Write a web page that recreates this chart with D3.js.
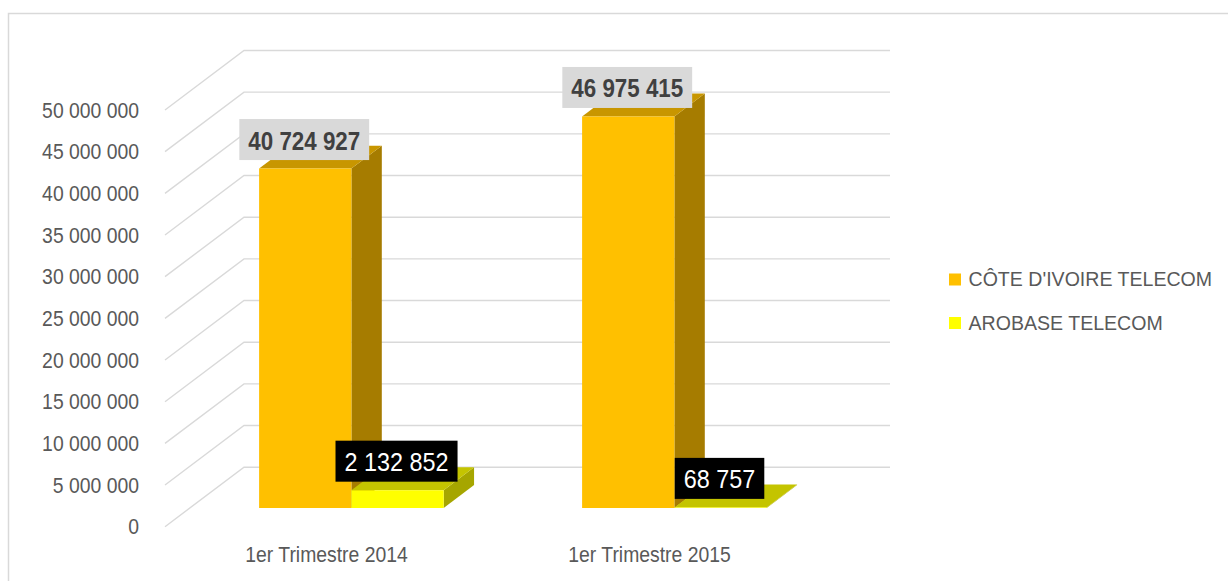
<!DOCTYPE html>
<html>
<head>
<meta charset="utf-8">
<script src="https://cdn.jsdelivr.net/npm/d3@7"></script>
<style>
  html, body { margin: 0; padding: 0; background: #fff; }
  svg { display: block; }
  text { font-family: "Liberation Sans", Arial, sans-serif; }
</style>
</head>
<body>
<div id="chart"></div>
<script>
// ---- Data ----
const categories = ["1er Trimestre 2014", "1er Trimestre 2015"];
const seriesNames = ["CÔTE D'IVOIRE TELECOM", "AROBASE TELECOM"];
const civValues = [40724927, 46975415];
const arobaseValues = [2132852, 68757];
const yTickValues = [0, 5000000, 10000000, 15000000, 20000000, 25000000, 30000000, 35000000, 40000000, 45000000, 50000000];

// ---- Styles ----
const seriesStyle = [
  { front: "#FFC000", top: "#C89600", side: "#A67C00", labelBox: "#D9D9D9", labelText: "#404040", bold: true, sx: 0.86 },
  { front: "#FFFF00", top: "#C4C400", side: "#A6A600", labelBox: "#000000", labelText: "#FFFFFF", bold: false, sx: 0.9 }
];
const W = 1228, H = 581;
const DX = 79, DY = 59.5;          // depth projection of the whole floor
const T0 = 0.315, T1 = 0.70;       // bar depth range (fraction of floor depth)

const svg = d3.select("#chart").append("svg").attr("width", W).attr("height", H);

// chart border (cut at right / bottom like the reference)
svg.append("rect").attr("x", 8.5).attr("y", 13.5).attr("width", 1240).attr("height", 600)
  .attr("fill", "none").attr("stroke", "#D9D9D9").attr("stroke-width", 1.5);

const y = d3.scaleLinear().domain([0, 50000000]).range([526.7, 110]);
const x = d3.scaleBand().domain(categories).range([165, 811]).paddingInner(0).paddingOuter(0);
const xs = d3.scaleBand().domain(seriesNames).range([0, x.bandwidth()]).paddingInner(0).paddingOuter(0.75);

const P = (xf, yf, t) => [xf + DX * t, yf - DY * t];
const fmt = v => d3.format(",")(v).replace(/,/g, " ");

// gridlines (side wall + back wall)
const [xL, xR] = x.range();
svg.append("g").selectAll("path").data(yTickValues).join("path")
  .attr("d", v => {
    const a = P(xL, y(v), 0), b = P(xL, y(v), 1), c = P(xR, y(v), 1);
    return `M${a}L${b}L${c}`;
  })
  .attr("fill", "none").attr("stroke", "#D9D9D9").attr("stroke-width", 1.4);

// y-axis labels
svg.append("g").selectAll("text").data(yTickValues).join("text")
  .attr("transform", v => `translate(139,${y(v) + 7.7}) scale(0.88,1)`)
  .attr("text-anchor", "end").attr("font-size", 22).attr("fill", "#595959")
  .text(v => fmt(v));

// category labels
svg.append("g").selectAll("text").data(categories).join("text")
  .attr("transform", c => `translate(${x(c) + x.bandwidth() / 2},561.7) scale(0.88,1)`)
  .attr("text-anchor", "middle").attr("font-size", 22).attr("fill", "#595959")
  .text(c => c);

// bars
const allSeries = [civValues, arobaseValues];
const bars = [];
categories.forEach((c, ci) => {
  allSeries.forEach((vals, si) => {
    const v = vals[ci];
    const x0 = x(c) + xs(seriesNames[si]);
    const x1 = x0 + xs.bandwidth();
    bars.push({ c, si, v, x0, x1, yb: y(0), yt: y(v) });
  });
});

const poly = pts => "M" + pts.map(p => p.join(",")).join("L") + "Z";
const gb = svg.append("g");
bars.forEach(b => {
  const st = seriesStyle[b.si];
  const g = gb.append("g");
  g.append("path").attr("d", poly([P(b.x1, b.yt, T0), P(b.x1, b.yt, T1), P(b.x1, b.yb, T1), P(b.x1, b.yb, T0)]))
    .attr("fill", st.side);
  g.append("path").attr("d", poly([P(b.x0, b.yt, T0), P(b.x1, b.yt, T0), P(b.x1, b.yt, T1), P(b.x0, b.yt, T1)]))
    .attr("fill", st.top);
  g.append("path").attr("d", poly([P(b.x0, b.yt, T0), P(b.x1, b.yt, T0), P(b.x1, b.yb, T0), P(b.x0, b.yb, T0)]))
    .attr("fill", st.front);
});

// data labels
const gl = svg.append("g");
bars.forEach(b => {
  const st = seriesStyle[b.si];
  const [fx, fy] = P((b.x0 + b.x1) / 2, b.yt, T0);
  const cx = fx - 1, bottom = fy - 8.5;
  const g = gl.append("g");
  const rect = g.append("rect");
  const t = g.append("text")
    .attr("transform", `translate(${cx},${bottom - 10.5}) scale(${st.sx},1)`)
    .attr("text-anchor", "middle").attr("font-size", 26)
    .attr("font-weight", st.bold ? "bold" : "normal")
    .attr("fill", st.labelText).text(fmt(b.v));
  const tw = t.node().getComputedTextLength() * st.sx;
  const bw = tw + 18;
  rect.attr("x", cx - bw / 2).attr("y", bottom - 41).attr("width", bw).attr("height", 41)
    .attr("fill", st.labelBox);
});

// legend
const lg = svg.append("g");
seriesNames.forEach((s, i) => {
  const yy = 286 + i * 43.5;
  lg.append("rect").attr("x", 949).attr("y", yy - 12.5).attr("width", 12).attr("height", 12)
    .attr("fill", seriesStyle[i].front);
  lg.append("text").attr("transform", `translate(968.5,${yy}) scale(0.955,1)`)
    .attr("font-size", 20.5).attr("fill", "#595959").text(s);
});
</script>
</body>
</html>
